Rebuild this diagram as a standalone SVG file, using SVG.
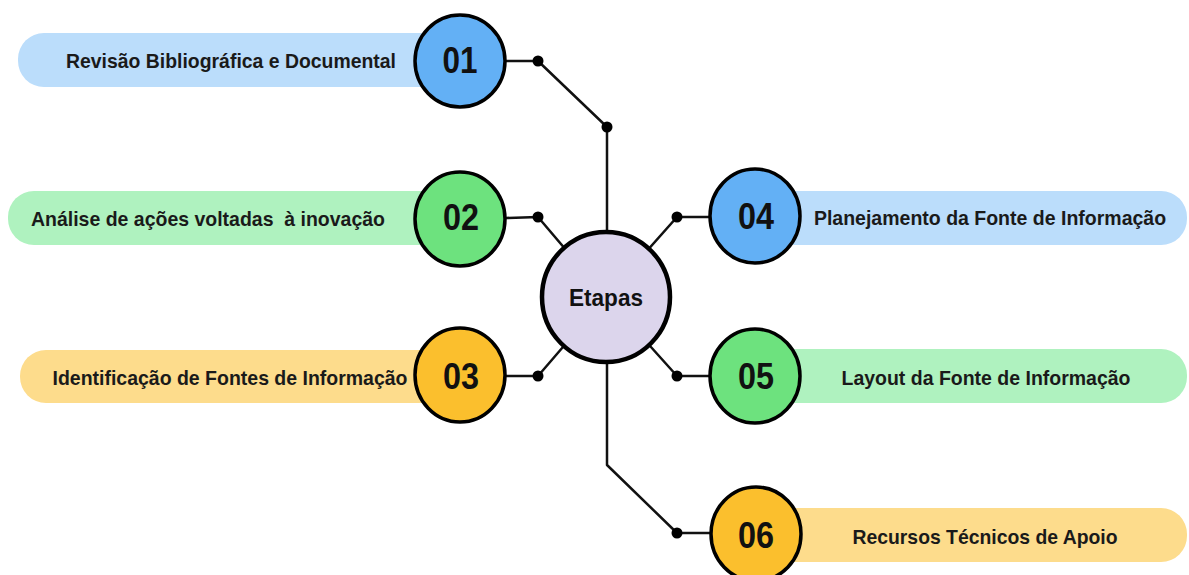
<svg xmlns="http://www.w3.org/2000/svg" width="1189" height="575" viewBox="0 0 1189 575">
  <style>
    .pill-blue { fill: #BBDDFB; }
    .pill-green { fill: #AFF2BF; }
    .pill-yellow { fill: #FDDC8C; }
    .num { stroke: #000; stroke-width: 3.5; }
    .num-blue { fill: #63B0F5; }
    .num-green { fill: #6DE27E; }
    .num-yellow { fill: #FBBF2D; }
    .label { font-family: "Liberation Sans", Arial, sans-serif; font-weight: bold; font-size: 21px; fill: #1a1a1a; text-anchor: middle; dominant-baseline: central; }
    .label-wide { font-size: 19.5px; }
    .digits { font-family: "Liberation Sans", Arial, sans-serif; font-weight: bold; font-size: 36px; fill: #111; text-anchor: middle; dominant-baseline: central; }
    .hub { fill: #DCD5EC; stroke: #000; stroke-width: 4.5; }
    .hub-text { font-family: "Liberation Sans", Arial, sans-serif; font-weight: bold; font-size: 24px; fill: #111; text-anchor: middle; dominant-baseline: central; }
    .wire { fill: none; stroke: #111; stroke-width: 2.5; stroke-linejoin: round; }
    .dot { fill: #000; }
  </style>

  <!-- connectors: hub to each step, with junction dots -->
  <g id="connectors">
    <polyline class="wire" points="506,61 538,61 607,127 607,240"/>
    <polyline class="wire" points="506,218 538,217 606,297"/>
    <polyline class="wire" points="506,376 538,376 606,297"/>
    <polyline class="wire" points="710,217 677,217 606,297"/>
    <polyline class="wire" points="710,376 677,376 606,297"/>
    <polyline class="wire" points="607,355 607,465 677,533 712,533"/>
    <circle class="dot" cx="538" cy="61" r="5.5"/>
    <circle class="dot" cx="607" cy="127" r="5.5"/>
    <circle class="dot" cx="538" cy="217" r="5.5"/>
    <circle class="dot" cx="538" cy="376" r="5.5"/>
    <circle class="dot" cx="677" cy="217" r="5.5"/>
    <circle class="dot" cx="677" cy="376" r="5.5"/>
    <circle class="dot" cx="677" cy="533" r="5.5"/>
  </g>

  <g id="hub">
    <ellipse class="hub" cx="606" cy="297" rx="64" ry="65"/>
    <text class="hub-text" x="606" y="297" textLength="74" lengthAdjust="spacingAndGlyphs">Etapas</text>
  </g>

  <g id="step-01">
    <rect class="pill-blue" x="18" y="33" width="440" height="54" rx="26"/>
    <ellipse class="num num-blue" cx="460" cy="61" rx="45" ry="46"/>
    <text class="digits" x="460" y="60" textLength="35" lengthAdjust="spacingAndGlyphs">01</text>
    <text class="label" x="231" y="60" textLength="330" lengthAdjust="spacingAndGlyphs">Revisão Bibliográfica e Documental</text>
  </g>

  <g id="step-02">
    <rect class="pill-green" x="8" y="191" width="450" height="54" rx="26"/>
    <ellipse class="num num-green" cx="460" cy="219" rx="45" ry="47"/>
    <text class="digits" x="461" y="217" textLength="36" lengthAdjust="spacingAndGlyphs">02</text>
    <text class="label" x="208" y="218" textLength="354" lengthAdjust="spacingAndGlyphs" xml:space="preserve">Análise de ações voltadas  à inovação</text>
  </g>

  <g id="step-03">
    <rect class="pill-yellow" x="20" y="350" width="438" height="53" rx="26"/>
    <ellipse class="num num-yellow" cx="460" cy="375" rx="45" ry="47"/>
    <text class="digits" x="461" y="376" textLength="36" lengthAdjust="spacingAndGlyphs">03</text>
    <text class="label" x="230" y="377" textLength="355" lengthAdjust="spacingAndGlyphs">Identificação de Fontes de Informação</text>
  </g>

  <g id="step-04">
    <rect class="pill-blue" x="755" y="191" width="432" height="54" rx="26"/>
    <ellipse class="num num-blue" cx="755" cy="216" rx="45" ry="47"/>
    <text class="digits" x="756" y="216" textLength="36" lengthAdjust="spacingAndGlyphs">04</text>
    <text class="label label-wide" x="990" y="218">Planejamento da Fonte de Informação</text>
  </g>

  <g id="step-05">
    <rect class="pill-green" x="755" y="349" width="432" height="54" rx="26"/>
    <ellipse class="num num-green" cx="755" cy="376" rx="45" ry="47"/>
    <text class="digits" x="756" y="376" textLength="36" lengthAdjust="spacingAndGlyphs">05</text>
    <text class="label" x="986" y="377" textLength="289" lengthAdjust="spacingAndGlyphs">Layout da Fonte de Informação</text>
  </g>

  <g id="step-06">
    <rect class="pill-yellow" x="755" y="508" width="432" height="54" rx="26"/>
    <ellipse class="num num-yellow" cx="756" cy="534" rx="45" ry="47"/>
    <text class="digits" x="756" y="535" textLength="36" lengthAdjust="spacingAndGlyphs">06</text>
    <text class="label" x="985" y="536" textLength="265" lengthAdjust="spacingAndGlyphs">Recursos Técnicos de Apoio</text>
  </g>
</svg>
